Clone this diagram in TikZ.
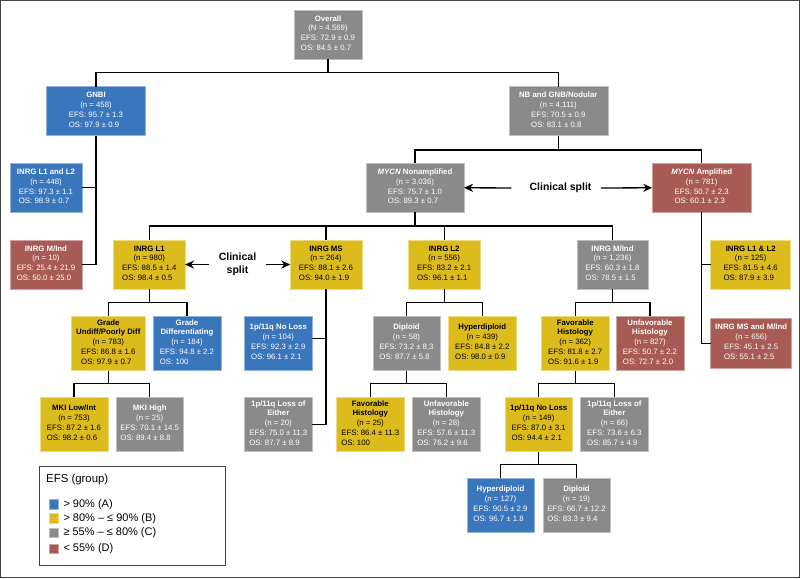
\documentclass[tikz,border=0pt]{standalone}
\usepackage{fontspec}
\setmainfont{Liberation Sans}
\usetikzlibrary{arrows.meta}

\definecolor{grpA}{HTML}{3A76BC}
\definecolor{grpB}{HTML}{DCBB1C}
\definecolor{grpC}{HTML}{8A8A8A}
\definecolor{grpD}{HTML}{A85B54}
\definecolor{rim}{HTML}{444444}

\newcommand\boxfont{\fontsize{7.8}{9.8}\selectfont}
\newcommand\efsos[2]{\begin{tabular}[t]{@{}l@{}}EFS: #1\\OS: #2\end{tabular}}
\newcommand\stats[4]{\textbf{#1}\\(#2)\\\efsos{#3}{#4}}% one line title
\newcommand\statss[5]{\textbf{#1}\\\textbf{#2}\\(#3)\\\efsos{#4}{#5}}% two line title

\begin{document}
\begin{tikzpicture}[
x=1pt, y=-1pt,% y grows downwards
    X/.style = {rectangle, fill=#1, draw=#1!55!white, line width=0.5pt,% boxes of the tree
                minimum width=67.5pt, minimum height=54.5pt,
                inner sep=1pt, outer sep=0pt,
                align=center, text=white, font=\boxfont},
    A/.style = {X=grpA},% EFS groups of the legend
    B/.style = {X=grpB, text=black},
    C/.style = {X=grpC},
    D/.style = {X=grpD},
    H/.style = {minimum height=49pt},
    W/.style = {minimum width=#1},
 wire/.style = {line width=1.2pt},
  arr/.style = {line width=1.3pt, -{Stealth[length=9pt,width=8pt]}},
split/.style = {font=\fontsize{10.5}{13.5}\selectfont\bfseries,
                align=center, inner sep=0pt},
                        ]
\useasboundingbox (0,0) rectangle (800,578);
\draw[line width=1.3pt, rim] (0.65,0.65) rectangle (799.35,577.35);
% level 1 and 2
\node[C,H] (all) at (328,34.5) {\stats{Overall}{N = 4,569}{72.9 ± 0.9}{84.5 ± 0.7}};
\node[A,H,W=99pt] (gnbi) at (96,111.2) {\stats{GNBI}{n = 458}{95.7 ± 1.3}{97.9 ± 0.9}};
\node[C,H,W=99pt] (nb) at (558.3,111.2) {\stats{NB and GNB/Nodular}{n = 4,111}{70.5 ± 0.9}{83.1 ± 0.8}};
\node[A,H,W=72pt] (gL) at (46,187.8) {\stats{INRG L1 and L2}{n = 448}{97.3 ± 1.1}{98.9 ± 0.7}};
\node[D,H,W=72pt] (gM) at (46,264.5) {\stats{INRG M/Ind}{n = 10}{25.4 ± 21.9}{50.0 ± 25.0}};
\node[C,H,W=98pt] (non) at (415,187.8) {\stats{\textit{MYCN} Nonamplified}{n = 3,036}{75.7 ± 1.0}{89.3 ± 0.7}};
\node[D,H,W=99pt] (amp) at (701.7,187.8) {\stats{\textit{MYCN} Amplified}{n = 781}{50.7 ± 2.3}{60.1 ± 2.3}};
% INRG stages
\node[B,H,W=71.5pt] (L1) at (149.3,264.5) {\stats{INRG L1}{n = 980}{88.5 ± 1.4}{98.4 ± 0.5}};
\node[B,H,W=71.5pt] (MS) at (326,264.5) {\stats{INRG MS}{n = 264}{88.1 ± 2.6}{94.0 ± 1.9}};
\node[B,H,W=71.5pt] (L2) at (444.2,264.5) {\stats{INRG L2}{n = 556}{83.2 ± 2.1}{96.1 ± 1.1}};
\node[C,H,W=71.5pt] (MI) at (612.5,264.5) {\stats{INRG M/Ind}{n = 1,236}{60.3 ± 1.8}{78.5 ± 1.5}};
\node[B,H,W=80pt] (aL) at (750.7,264.5) {\stats{INRG L1 \& L2}{n = 125}{81.5 ± 4.6}{87.9 ± 3.9}};
\node[D,W=81pt,minimum height=50pt] (aM) at (751.2,343.3) {\stats{INRG MS and M/Ind}{n = 656}{45.1 ± 2.5}{55.1 ± 2.5}};
% third row
\node[B,W=74.7pt] (undiff) at (108.3,343.3) {\statss{Grade}{Undiff/Poorly Diff}{n = 783}{86.8 ± 1.6}{97.9 ± 0.7}};
\node[A] (diff) at (187,343.3) {\statss{Grade}{Differentiating}{n = 184}{94.8 ± 2.2}{100}};
\node[A] (msKeep) at (278.3,343.3) {\stats{1p/11q No Loss}{n = 104}{92.3 ± 2.9}{96.1 ± 2.1}};
\node[C] (l2Di) at (406.5,343.3) {\stats{Diploid}{n = 58}{73.2 ± 8.3}{87.7 ± 5.8}};
\node[B] (l2Hy) at (482.3,343.3) {\stats{Hyperdiploid}{n = 439}{84.8 ± 2.2}{98.0 ± 0.9}};
\node[B] (miFav) at (575.2,343.3) {\statss{Favorable}{Histology}{n = 362}{81.8 ± 2.7}{91.6 ± 1.9}};
\node[D] (miUnf) at (650,343.3) {\statss{Unfavorable}{Histology}{n = 827}{50.7 ± 2.2}{72.7 ± 2.0}};
% fourth row
\node[B] (mkiLo) at (74,424.3) {\stats{MKI Low/Int}{n = 753}{87.2 ± 1.6}{98.2 ± 0.6}};
\node[C] (mkiHi) at (149.7,424.3) {\stats{MKI High}{n = 25}{70.1 ± 14.5}{89.4 ± 8.8}};
\node[C] (msLoss) at (278.3,424.3) {\statss{1p/11q Loss of}{Either}{n = 20}{75.0 ± 11.3}{87.7 ± 8.9}};
\node[B] (diFav) at (370.3,424.3) {\statss{Favorable}{Histology}{n = 25}{86.4 ± 11.3}{100}};
\node[C] (diUnf) at (446.3,424.3) {\statss{Unfavorable}{Histology}{n = 28}{57.6 ± 11.3}{76.2 ± 9.6}};
\node[B] (favKeep) at (538.7,424.3) {\stats{1p/11q No Loss}{n = 149}{87.0 ± 3.1}{94.4 ± 2.1}};
\node[C] (favLoss) at (614.3,424.3) {\statss{1p/11q Loss of}{Either}{n = 66}{73.6 ± 6.3}{85.7 ± 4.9}};
% last row
\node[A] (keepHy) at (500.5,505.3) {\stats{Hyperdiploid}{n = 127}{90.5 ± 2.9}{96.7 ± 1.8}};
\node[C] (keepDi) at (576.5,505.3) {\stats{Diploid}{n = 19}{66.7 ± 12.2}{83.3 ± 9.4}};
% connectors
\foreach \c in {gnbi,nb}       \draw[wire] (all.south) -- ++(0,13.5) -| (\c.north);
\foreach \c in {gL,gM}         \draw[wire] (gnbi.south) |- (\c.east);
\foreach \c in {non,amp}       \draw[wire] (nb.south) -- ++(0,14.3) -| (\c.north);
\foreach \c in {aL,aM}         \draw[wire] (amp.south) |- (\c.west);
\foreach \c in {L1,MS,L2,MI}   \draw[wire] (non.south) -- ++(0,13.7) -| (\c.north);
\foreach \c in {undiff,diff}   \draw[wire] (L1.south) -- ++(0,13.7) -| (\c.north);
\draw[wire] (MS.south) |- ([yshift=4.7pt]msKeep.east);
\draw[wire] (MS.south) |- (msLoss.east);
\foreach \c in {mkiLo,mkiHi}   \draw[wire] (undiff.south) -- ++(0,13.3) -| (\c.north);
\foreach \c in {l2Di,l2Hy}     \draw[wire] (L2.south) -- ++(0,13.7) -| (\c.north);
\foreach \c in {diFav,diUnf}   \draw[wire] (l2Di.south) -- ++(0,13.3) -| (\c.north);
\foreach \c in {miFav,miUnf}   \draw[wire] (MI.south) -- ++(0,13.7) -| (\c.north);
\foreach \c in {favKeep,favLoss} \draw[wire] (miFav.south) -- ++(0,13.3) -| (\c.north);
\foreach \c in {keepHy,keepDi} \draw[wire] (favKeep.south) -- ++(0,12.7) -| (\c.north);
% clinical splits
\node[split] (cs1) at (560.5,188) {Clinical split};
\draw[arr, shorten <=18pt] (cs1.west) -- (non.east);
\draw[arr, shorten <=9.3pt] (cs1.east) -- (amp.west);
\node[split] (cs2) at (237.5,264.5) {Clinical\\split};
\draw[arr, shorten <=10pt] (cs2.west) -- (L1.east);
\draw[arr, shorten <=10pt] (cs2.east) -- (MS.west);
% legend
\draw[rim, line width=0.9pt] (39.3,466.3) rectangle (225.7,565.7);
\node[anchor=west, inner sep=0pt, font=\fontsize{11.4}{13}\selectfont] (keyT) at (46,480) {EFS (group)};
\foreach \c/\t/\y [count=\i] in {grpA/{> 90\% (A)}/504.3,
                                 grpB/{> 80\% – ≤ 90\% (B)}/518.3,
                                 grpC/{≥ 55\% – ≤ 80\% (C)}/532.7,
                                 grpD/{< 55\% (D)}/549}
  {
  \node[fill=\c, draw=\c!55!white, line width=0.4pt, minimum size=9.3pt, inner sep=0pt] (key-\i) at (53.7,\y) {};
  \node[anchor=west, inner sep=0pt, font=\fontsize{11}{13}\selectfont] (keyL-\i) at (63.3,\y) {\t};
  }
\end{tikzpicture}
\end{document}
